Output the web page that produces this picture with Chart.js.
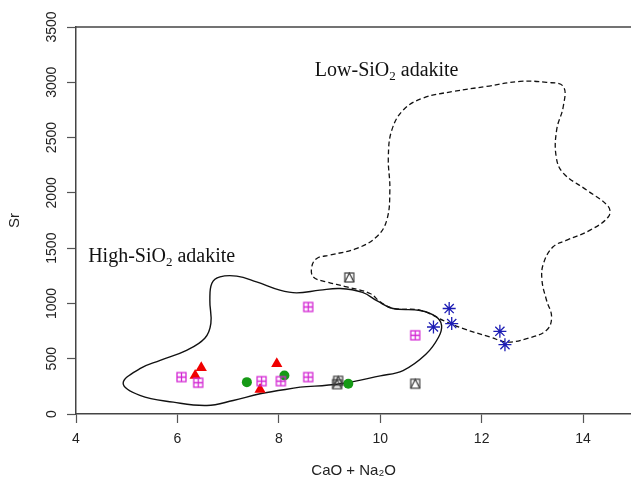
<!DOCTYPE html>
<html>
<head>
<meta charset="utf-8">
<style>
  html, body { margin: 0; padding: 0; background: #fff; overflow: hidden; }
</style>
<script src="https://cdn.jsdelivr.net/npm/chart.js@4.4.0/dist/chart.umd.min.js"></script>
</head>
<body>
<canvas id="myChart" width="639" height="481"></canvas>
<script>
// samples (CaO + Na2O vs Sr)
var squareX = [6.08, 6.41, 7.66, 8.04, 8.58, 8.58, 10.69];
var squareY = [334, 283, 297, 297, 334, 968, 712];
var triX = [6.47, 6.35, 7.63, 7.96];
var triY = [419, 349, 222, 455];
var dotX = [7.37, 8.11, 9.37];
var dotY = [288, 349, 274];
var boxTriX = [9.39, 9.17, 9.15, 10.69];
var boxTriY = [1235, 300, 270, 274];
var starX = [11.36, 11.05, 11.41, 12.36, 12.46];
var starY = [954, 787, 818, 748, 627];

// field outlines
var highX = [8.42, 9.21, 10.0, 10.45, 10.9, 11.15, 11.21, 11.1, 10.79, 10.25, 9.95, 9.65, 9.21, 8.81, 8.35, 8.02, 7.56, 7.17, 6.84, 6.68, 6.64, 6.66, 6.54, 6.18, 5.66, 5.26, 4.93, 5.26, 5.92, 6.58, 7.10, 7.63, 8.42];
var highY = [243, 274, 345, 393, 540, 694, 802, 880, 936, 954, 1020, 1100, 1135, 1120, 1095, 1120, 1195, 1247, 1240, 1183, 1029, 820, 685, 576, 485, 410, 277, 168, 107, 77, 122, 183, 243];
var lowX = [12.10, 12.76, 13.28, 13.61, 13.61, 13.48, 13.47, 13.61, 14.07, 14.50, 14.50, 14.14, 13.68, 13.41, 13.22, 13.19, 13.28, 13.38, 13.28, 12.89, 12.50, 12.17, 11.64, 11.31, 10.79, 10.26, 10.0, 9.80, 9.34, 8.94, 8.68, 8.65, 8.75, 9.01, 9.54, 9.93, 10.13, 10.19, 10.16, 10.23, 10.46, 10.85, 11.44, 12.10];
var lowY = [2963, 3008, 2999, 2963, 2781, 2570, 2328, 2178, 2026, 1875, 1784, 1663, 1572, 1512, 1362, 1210, 1029, 878, 757, 682, 651, 696, 772, 832, 938, 954, 1014, 1090, 1150, 1195, 1240, 1331, 1407, 1437, 1498, 1603, 1754, 2026, 2328, 2570, 2752, 2858, 2917, 2963];

var xTicks = [4, 6, 8, 10, 12, 14];
var yTicks = [0, 500, 1000, 1500, 2000, 2500, 3000, 3500];

function pts(xs, ys) {
  return xs.map(function (x, i) { return { x: x, y: ys[i] }; });
}

function glyph(size, draw) {
  var c = document.createElement("canvas");
  c.width = size;
  c.height = size;
  draw(c.getContext("2d"));
  return c;
}

var squarePlus = glyph(13, function (g) {
  g.strokeStyle = "#d326d3";
  g.lineWidth = 1.3;
  g.strokeRect(2, 2, 9, 9);
  g.beginPath();
  g.moveTo(6.5, 2); g.lineTo(6.5, 11);
  g.moveTo(2, 6.5); g.lineTo(11, 6.5);
  g.stroke();
});

var squareTri = glyph(13, function (g) {
  g.strokeStyle = "#3a3a3a";
  g.lineWidth = 1.2;
  g.strokeRect(2, 2, 9, 9);
  g.beginPath();
  g.moveTo(2, 11); g.lineTo(6.5, 2); g.lineTo(11, 11);
  g.stroke();
});

var fieldLabels = {
  id: "fieldLabels",
  afterDraw: function (chart) {
    var ctx = chart.ctx;
    var xs = chart.scales.x, ys = chart.scales.y;
    function sub(text, x, y) {
      ctx.save();
      ctx.fillStyle = "#111";
      ctx.textBaseline = "alphabetic";
      ctx.textAlign = "left";
      ctx.font = '20px "Liberation Serif"';
      ctx.fillText(text[0], x, y);
      x += ctx.measureText(text[0]).width;
      ctx.font = '13px "Liberation Serif"';
      ctx.fillText(text[1], x, y + 4);
      x += ctx.measureText(text[1]).width;
      ctx.font = '20px "Liberation Serif"';
      ctx.fillText(text[2], x, y);
      ctx.restore();
    }
    sub(["High-SiO", "2", " adakite"], xs.getPixelForValue(4.24), ys.getPixelForValue(1374));
    sub(["Low-SiO", "2", " adakite"], xs.getPixelForValue(8.71), ys.getPixelForValue(3056));

    // top frame line
    var a = chart.chartArea;
    ctx.save();
    ctx.strokeStyle = "#444";
    ctx.lineWidth = 1.5;
    ctx.beginPath();
    ctx.moveTo(a.left, a.top);
    ctx.lineTo(a.right, a.top);
    ctx.stroke();
    ctx.restore();
  }
};

var sans = "'Liberation Sans', Arial, sans-serif";

var ctx = document.getElementById("myChart").getContext("2d");
var chart = new Chart(ctx, {
  type: "scatter",
  data: {
    datasets: [
      { data: pts(starX, starY), pointStyle: "star", pointRadius: 6.5, borderColor: "#1c1cb4", backgroundColor: "#1c1cb4", borderWidth: 1.3 },
      { data: pts(boxTriX, boxTriY), pointStyle: squareTri },
      { data: pts(squareX, squareY), pointStyle: squarePlus },
      { data: pts(dotX, dotY), pointStyle: "circle", pointRadius: 5, borderWidth: 0, backgroundColor: "#169a16" },
      { data: pts(triX, triY), pointStyle: "triangle", pointRadius: 6.5, borderWidth: 0, backgroundColor: "#f00000" },
      { data: pts(highX, highY), showLine: true, pointRadius: 0, tension: 0.4, borderColor: "#111", borderWidth: 1.4, fill: false },
      { data: pts(lowX, lowY), showLine: true, pointRadius: 0, tension: 0.4, borderColor: "#111", borderWidth: 1.3, borderDash: [5, 3], fill: false }
    ]
  },
  options: {
    responsive: false,
    animation: false,
    layout: { padding: { top: 27, left: 0, right: 0, bottom: 0 } },
    plugins: { legend: { display: false }, tooltip: { enabled: false } },
    scales: {
      x: {
        type: "linear",
        min: 4,
        max: 14.95,
        afterBuildTicks: function (s) { s.ticks = xTicks.map(function (v) { return { value: v }; }); },
        afterFit: function (s) { s.height = 67; },
        ticks: { font: { family: sans, size: 14 }, color: "#222", padding: 8 },
        grid: { drawOnChartArea: false, drawTicks: true, tickLength: 9, tickWidth: 1.2, tickColor: "#555" },
        border: { display: true, color: "#444", width: 1.5 },
        title: { display: true, text: "CaO + Na₂O", font: { family: sans, size: 15 }, color: "#222", padding: { top: 0, bottom: 1 } }
      },
      y: {
        type: "linear",
        min: 0,
        max: 3500,
        afterBuildTicks: function (s) { s.ticks = yTicks.map(function (v) { return { value: v }; }); },
        afterFit: function (s) { s.width = 76; },
        ticks: { font: { family: sans, size: 14 }, color: "#222", padding: -1, minRotation: 90, maxRotation: 90, crossAlign: "center",
          callback: function (v) { return String(v); } },
        grid: { drawOnChartArea: false, drawTicks: true, tickLength: 9, tickWidth: 1.2, tickColor: "#555" },
        border: { display: true, color: "#444", width: 1.5 },
        title: { display: true, text: "Sr", font: { family: sans, size: 15 }, color: "#222", padding: { top: 6, bottom: 0 } }
      }
    }
  },
  plugins: [fieldLabels]
});
</script>
</body>
</html>
